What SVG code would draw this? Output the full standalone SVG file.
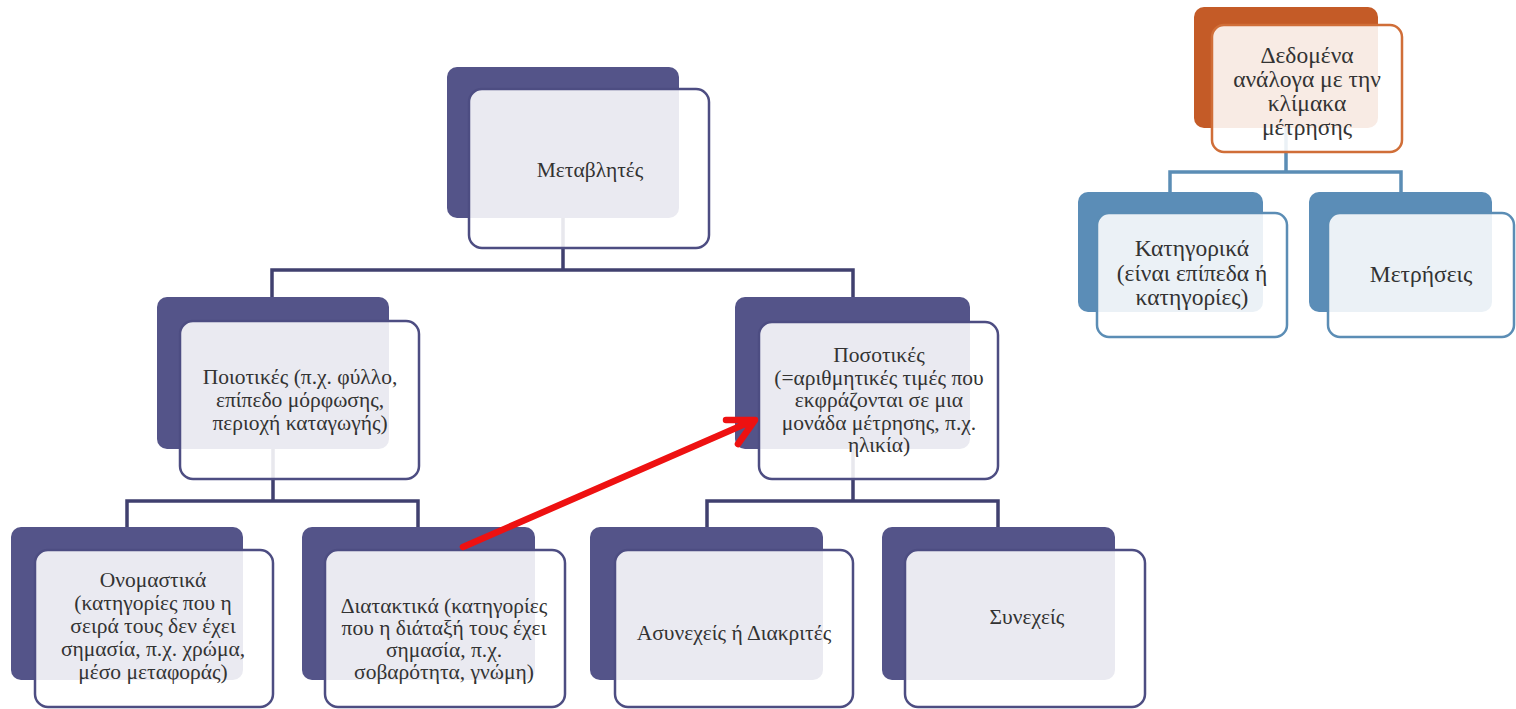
<svg xmlns="http://www.w3.org/2000/svg" width="1516" height="709" viewBox="0 0 1516 709">
<style>
.bk{fill:#545489}
.fr{fill:#ffffff;fill-opacity:0.88;stroke:#4d4d82;stroke-width:2.5}
.bko{fill:#c45b27}
.fro{fill:#ffffff;fill-opacity:0.88;stroke:#d06e38;stroke-width:2.5}
.bkb{fill:#5b8db7}
.frb{fill:#ffffff;fill-opacity:0.88;stroke:#5b8db5;stroke-width:2.5}
.c{fill:none;stroke:#40406f;stroke-width:3.5}
.cb{fill:none;stroke:#5b8db5;stroke-width:3.5}
text{font-family:"Liberation Serif","DejaVu Serif",serif;font-size:21.5px;fill:#333333;text-anchor:middle}
.r text{font-size:23.5px}
</style>
<rect width="1516" height="709" fill="#ffffff"/>
<g id="connectors">
<path class="c" d="M563,215 V270 M272,298 V270 H853 V298"/>
<path class="c" d="M273,445 V501 M127,528 V501 H418 V528"/>
<path class="c" d="M853,445 V501 M707,528 V501 H998 V528"/>
<path class="cb" d="M1286,125 V172 M1170,193 V172 H1401 V193"/>
</g>
<g id="n-metavlites">
<rect class="bk" x="447" y="67" width="232" height="151" rx="10"/>
<rect class="fr" x="469" y="89" width="240" height="159" rx="13"/>
<text x="590" y="177">Μεταβλητές</text>
</g>
<g id="n-poiotikes">
<rect class="bk" x="157" y="297" width="232" height="152" rx="10"/>
<rect class="fr" x="180" y="321" width="239" height="158" rx="13"/>
<text x="300" y="384">Ποιοτικές (π.χ. φύλλο,</text>
<text x="300" y="407">επίπεδο μόρφωσης,</text>
<text x="300" y="430">περιοχή καταγωγής)</text>
</g>
<g id="n-posotikes">
<rect class="bk" x="735" y="297" width="235" height="152" rx="10"/>
<rect class="fr" x="759" y="322" width="239" height="157" rx="13"/>
<text x="879" y="362">Ποσοτικές</text>
<text x="879" y="385">(=αριθμητικές τιμές που</text>
<text x="879" y="407">εκφράζονται σε μια</text>
<text x="879" y="430">μονάδα μέτρησης, π.χ.</text>
<text x="879" y="452">ηλικία)</text>
</g>
<g id="n-onomastika">
<rect class="bk" x="11" y="527" width="232" height="153" rx="10"/>
<rect class="fr" x="35" y="550" width="238" height="157" rx="13"/>
<text x="153" y="587">Ονομαστικά</text>
<text x="153" y="610">(κατηγορίες που η</text>
<text x="153" y="633">σειρά τους δεν έχει</text>
<text x="153" y="656">σημασία, π.χ. χρώμα,</text>
<text x="153" y="679">μέσο μεταφοράς)</text>
</g>
<g id="n-diataktika">
<rect class="bk" x="302" y="527" width="233" height="153" rx="10"/>
<rect class="fr" x="325" y="550" width="240" height="157" rx="13"/>
<text x="444" y="613">Διατακτικά (κατηγορίες</text>
<text x="444" y="635">που η διάταξή τους έχει</text>
<text x="444" y="657">σημασία, π.χ.</text>
<text x="444" y="679">σοβαρότητα, γνώμη)</text>
</g>
<g id="n-asynexeis">
<rect class="bk" x="590" y="527" width="233" height="153" rx="10"/>
<rect class="fr" x="615" y="550" width="238" height="157" rx="13"/>
<text x="734" y="640">Ασυνεχείς ή Διακριτές</text>
</g>
<g id="n-synexeis">
<rect class="bk" x="882" y="527" width="233" height="153" rx="10"/>
<rect class="fr" x="905" y="550" width="240" height="157" rx="13"/>
<text x="1027" y="624">Συνεχείς</text>
</g>
<g id="n-dedomena" class="r">
<rect class="bko" x="1194" y="7" width="184" height="121" rx="10"/>
<rect class="fro" x="1212" y="25" width="190" height="127" rx="12"/>
<text x="1307" y="63">Δεδομένα</text>
<text x="1307" y="87">ανάλογα με την</text>
<text x="1307" y="111">κλίμακα</text>
<text x="1307" y="135">μέτρησης</text>
</g>
<g id="n-katigorika" class="r">
<rect class="bkb" x="1078" y="192" width="185" height="120" rx="10"/>
<rect class="frb" x="1097" y="213" width="190" height="124" rx="12"/>
<text x="1192" y="256">Κατηγορικά</text>
<text x="1192" y="281">(είναι επίπεδα ή</text>
<text x="1192" y="305">κατηγορίες)</text>
</g>
<g id="n-metriseis" class="r">
<rect class="bkb" x="1309" y="192" width="183" height="120" rx="10"/>
<rect class="frb" x="1328" y="213" width="186" height="124" rx="12"/>
<text x="1421" y="282">Μετρήσεις</text>
</g>
<g id="red-arrow">
<path d="M463,547 L752,421 M726,420 L755,420 L738,444" fill="none" stroke="#ee1111" stroke-width="6.5" stroke-linecap="round" stroke-linejoin="round"/>
</g>
</svg>
